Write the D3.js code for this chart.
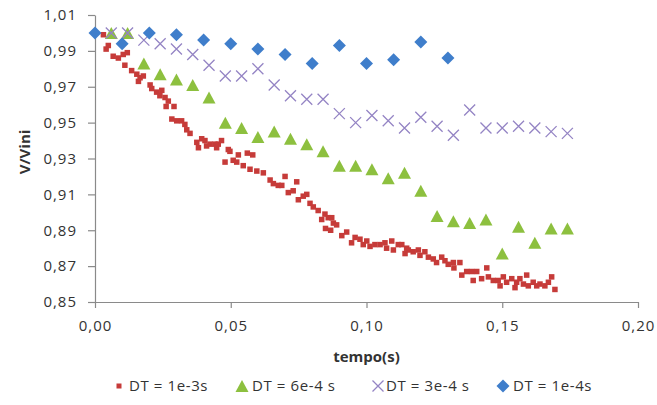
<!DOCTYPE html>
<html><head><meta charset="utf-8">
<script src="https://cdn.jsdelivr.net/npm/d3@7/dist/d3.min.js"></script>
<style>
body{margin:0;background:#fff;}
text{font-family:"Open Sans","Noto Sans",sans-serif;fill:#333;}
</style>
</head><body>
<svg id="chart" width="657" height="405"></svg>
<script>
// ---------- data ----------
const xTickValues = [0, 0.05, 0.10, 0.15, 0.20];
const yTickValues = [0.85, 0.87, 0.89, 0.91, 0.93, 0.95, 0.97, 0.99, 1.01];
const seriesNames = ["DT = 1e-3s", "DT = 6e-4 s", "DT = 3e-4 s", "DT = 1e-4s"];
const xTitle = "tempo(s)";
const yTitle = "V/Vini";

const redTime = [0.0031,0.0041,0.0049,0.0067,0.0086,0.0104,0.0110,0.0119,0.0135,0.0154,0.0160,0.0166,0.0178,
  0.0203,0.0209,0.0227,0.0239,0.0246,0.0258,0.0262,0.0270,0.0283,0.0291,0.0301,0.0319,0.0331,0.0338,0.0350,
  0.0375,0.0381,0.0393,0.0405,0.0411,0.0424,0.0442,0.0448,0.0454,0.0466,0.0479,0.0491,0.0497,0.0509,0.0522,
  0.0528,0.0546,0.0561,0.0571,0.0581,0.0596,0.0620,0.0645,0.0657,0.0675,0.0688,0.0700,0.0712,0.0730,0.0743,
  0.0749,0.0767,0.0780,0.0792,0.0804,0.0822,0.0835,0.0847,0.0849,0.0859,0.0868,0.0872,0.0878,0.0890,0.0909,
  0.0927,0.0945,0.0958,0.0976,0.0988,0.1001,0.1013,0.1031,0.1050,0.1068,0.1074,0.1093,0.1099,0.1117,0.1130,
  0.1142,0.1148,0.1154,0.1172,0.1191,0.1197,0.1215,0.1228,0.1246,0.1258,0.1277,0.1289,0.1301,0.1320,0.1322,
  0.1344,0.1351,0.1369,0.1387,0.1393,0.1406,0.1424,0.1443,0.1449,0.1467,0.1485,0.1492,0.1504,0.1516,0.1535,
  0.1547,0.1553,0.1565,0.1578,0.1590,0.1596,0.1614,0.1627,0.1639,0.1657,0.1670,0.1682,0.1694];
const redValue = [0.999,0.991,0.993,0.987,0.986,0.988,0.982,0.989,0.979,0.977,0.973,0.975,0.976,
  0.971,0.969,0.967,0.965,0.968,0.964,0.959,0.962,0.952,0.959,0.951,0.951,0.949,0.946,0.944,
  0.939,0.936,0.941,0.940,0.937,0.938,0.938,0.936,0.938,0.940,0.928,0.935,0.934,0.929,0.928,
  0.932,0.926,0.933,0.924,0.932,0.923,0.922,0.918,0.916,0.915,0.915,0.920,0.911,0.912,0.917,
  0.907,0.909,0.910,0.905,0.903,0.901,0.896,0.899,0.891,0.897,0.890,0.897,0.894,0.893,0.887,
  0.889,0.883,0.886,0.885,0.882,0.884,0.881,0.882,0.882,0.883,0.880,0.884,0.879,0.882,0.882,
  0.877,0.880,0.879,0.878,0.879,0.876,0.878,0.875,0.874,0.872,0.875,0.873,0.871,0.872,0.869,
  0.872,0.865,0.867,0.867,0.862,0.867,0.863,0.869,0.864,0.862,0.862,0.859,0.864,0.861,0.863,
  0.858,0.861,0.863,0.860,0.865,0.859,0.861,0.859,0.860,0.859,0.861,0.864,0.857];

const greenTime = [0.006,0.012,0.018,0.024,0.030,0.036,0.042,0.048,0.054,0.060,0.066,0.072,0.078,0.084,0.090,
  0.096,0.102,0.108,0.114,0.120,0.126,0.132,0.138,0.144,0.150,0.156,0.162,0.168,0.174];
const greenValue = [1.000,1.000,0.983,0.977,0.974,0.971,0.964,0.950,0.947,0.942,0.945,0.941,0.938,0.934,0.926,
  0.926,0.924,0.919,0.922,0.912,0.898,0.895,0.894,0.896,0.877,0.892,0.883,0.891,0.891];

const purpleTime = [0.006,0.012,0.018,0.024,0.030,0.036,0.042,0.048,0.054,0.060,0.066,0.072,0.078,0.084,0.090,
  0.096,0.102,0.108,0.114,0.120,0.126,0.132,0.138,0.144,0.150,0.156,0.162,0.168,0.174];
const purpleValue = [1.000,1.000,0.996,0.994,0.991,0.988,0.982,0.976,0.976,0.980,0.971,0.965,0.963,0.963,0.955,
  0.950,0.954,0.951,0.947,0.953,0.948,0.943,0.957,0.947,0.947,0.948,0.947,0.945,0.944];

const blueTime = [0.00,0.01,0.02,0.03,0.04,0.05,0.06,0.07,0.08,0.09,0.10,0.11,0.12,0.13];
const blueValue = [1.000,0.994,1.000,0.999,0.996,0.994,0.991,0.988,0.983,0.993,0.983,0.985,0.995,0.986];

const colors = ["#C63B39", "#8DC03F", "#9484C4", "#3F7ECB"];

// ---------- chart ----------
const svg = d3.select("#chart");
const x = d3.scaleLinear().domain([0, 0.20]).range([95, 638]);
const y = d3.scaleLinear().domain([0.85, 1.01]).range([302, 15]);
const fmt = d => d.toFixed(2).replace(".", ",");

const yAxis = svg.append("g").attr("transform", "translate(95,0)")
  .call(d3.axisLeft(y).tickValues(yTickValues).tickSize(7).tickSizeOuter(0).tickPadding(11).tickFormat(fmt));
const xAxis = svg.append("g").attr("transform", "translate(0,302)")
  .call(d3.axisBottom(x).tickValues(xTickValues).tickSize(6).tickSizeOuter(0).tickPadding(12).tickFormat(fmt));
[xAxis, yAxis].forEach(g => {
  g.selectAll("path,line").attr("stroke", "#8a8a8a").attr("stroke-width", 1.2);
  g.selectAll("text").style("font-size", "15px").style("letter-spacing", "1px")
    .style("font-family", '"Open Sans",sans-serif').attr("fill", "#333");
});

// marker shapes
const sq = 5.5;
const triW = 13, triH = 12;
const xs = 5.5;
const dm = 6.5;
const trianglePath = `M0,${-triH/2}L${triW/2},${triH/2}L${-triW/2},${triH/2}Z`;
const xPath = `M${-xs},${-xs}L${xs},${xs}M${-xs},${xs}L${xs},${-xs}`;
const diamondPath = `M0,${-dm}L${dm},0L0,${dm}L${-dm},0Z`;

const zip = (t, v) => t.map((d, i) => ({t: d, v: v[i]}));

// red squares
svg.append("g").selectAll("rect").data(zip(redTime, redValue)).join("rect")
  .attr("x", d => x(d.t) - sq/2).attr("y", d => y(d.v) - sq/2)
  .attr("width", sq).attr("height", sq).attr("fill", colors[0]);

// green triangles
svg.append("g").selectAll("path").data(zip(greenTime, greenValue)).join("path")
  .attr("d", trianglePath).attr("transform", d => `translate(${x(d.t)},${y(d.v)})`)
  .attr("fill", colors[1]);

// purple crosses
svg.append("g").selectAll("path").data(zip(purpleTime, purpleValue)).join("path")
  .attr("d", xPath).attr("transform", d => `translate(${x(d.t)},${y(d.v)})`)
  .attr("fill", "none").attr("stroke", colors[2]).attr("stroke-width", 1.3);

// blue diamonds
svg.append("g").selectAll("path").data(zip(blueTime, blueValue)).join("path")
  .attr("d", diamondPath).attr("transform", d => `translate(${x(d.t)},${y(d.v)})`)
  .attr("fill", colors[3]);

// axis titles
svg.append("text").attr("x", 366.5).attr("y", 362).attr("text-anchor", "middle")
  .style("font-size", "15px").style("font-weight", "bold").text(xTitle);
svg.append("text").attr("transform", "translate(30,152) rotate(-90)").attr("text-anchor", "middle")
  .style("font-size", "15px").style("font-weight", "bold").text(yTitle);

// legend
const legY = 386;
const legendItems = [
  {cx: 119, tx: 129, path: null},
  {cx: 242, tx: 252, path: trianglePath},
  {cx: 378, tx: 386, path: xPath},
  {cx: 503, tx: 513, path: diamondPath}
];
const leg = svg.append("g");
legendItems.forEach((it, i) => {
  if (i === 0) {
    leg.append("rect").attr("x", it.cx - 2.5).attr("y", legY - 2.5).attr("width", 5).attr("height", 5).attr("fill", colors[0]);
  } else if (i === 2) {
    leg.append("path").attr("d", it.path).attr("transform", `translate(${it.cx},${legY})`)
      .attr("fill", "none").attr("stroke", colors[2]).attr("stroke-width", 1.3);
  } else {
    leg.append("path").attr("d", it.path).attr("transform", `translate(${it.cx},${legY})`).attr("fill", colors[i]);
  }
  leg.append("text").attr("x", it.tx).attr("y", legY).attr("dy", "0.35em")
    .style("font-size", "15px").style("letter-spacing", "0.6px").text(seriesNames[i]);
});
</script>
</body></html>
